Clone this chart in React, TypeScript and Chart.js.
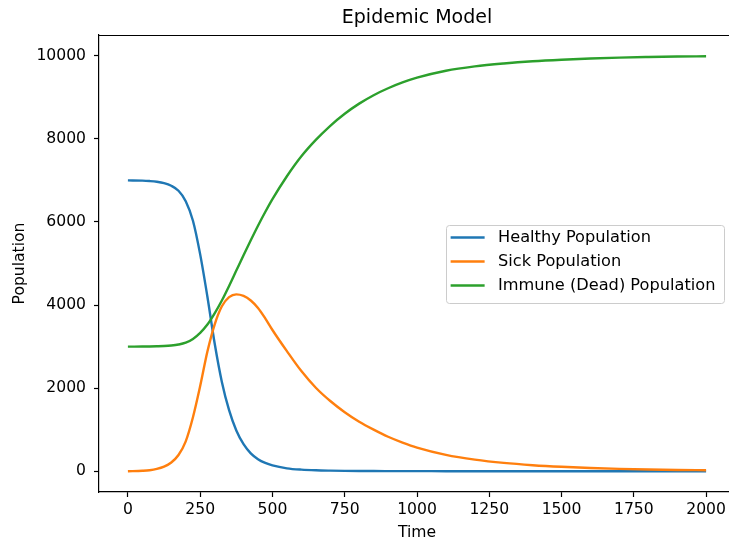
import React, { useEffect, useRef } from 'react';
import { Chart, registerables } from 'chart.js';

Chart.register(...registerables);

const TITLE = 'Epidemic Model';
const X_LABEL = 'Time';
const Y_LABEL = 'Population';
const X_TICKS = [0, 250, 500, 750, 1000, 1250, 1500, 1750, 2000];
const Y_TICKS = [0, 2000, 4000, 6000, 8000, 10000];
const SERIES_NAMES = ['Healthy Population', 'Sick Population', 'Immune (Dead) Population'];

const TIME = [
  0, 50, 75, 100, 125, 150,
  175, 200, 225, 250, 275, 300, 325, 350, 375, 400, 425, 450, 475, 500,
  550, 600, 650, 700, 750, 800, 850, 900, 950, 1000,
  1100, 1200, 1300, 1400, 1500, 1600, 1700, 1800, 1900, 2000,
];

const HEALTHY = [
  7000, 6995, 6985, 6968, 6935, 6870,
  6750, 6500, 6030, 5220, 4200, 3080, 2150, 1470, 980, 650, 430, 290, 200, 140,
  70, 38, 22, 14, 9, 6, 4, 3, 2, 2,
  1, 1, 0, 0, 0, 0, 0, 0, 0, 0,
];

const SICK = [
  0, 12, 25, 55, 110, 210,
  390, 720, 1300, 2050, 2880, 3530, 3970, 4190, 4258, 4220, 4110, 3930, 3680, 3400,
  2890, 2410, 2010, 1690, 1420, 1190, 1000, 830, 690, 570,
  395, 280, 200, 145, 106, 78, 57, 42, 31, 23,
];

const IMMUNE = [
  3000, 3001, 3003, 3007, 3013, 3026,
  3050, 3095, 3185, 3330, 3530, 3800, 4110, 4460, 4830, 5200, 5560, 5910, 6240, 6550,
  7100, 7580, 7975, 8315, 8605, 8848, 9051, 9218, 9358, 9473,
  9640, 9745, 9815, 9868, 9906, 9935, 9956, 9970, 9981, 9989,
];

const COLORS = ['#1f77b4', '#ff7f0e', '#2ca02c'];
const FONT = '"DejaVu Sans", sans-serif';
const TEXT = '#000';

const toPoints = (ys: number[]) => TIME.map((t, i) => ({ x: t, y: ys[i] }));

const framePlugin = {
  id: 'frameAndText',
  afterDraw(chart: any) {
    const { ctx, chartArea: a } = chart;
    ctx.save();
    // top and right spines
    ctx.strokeStyle = '#000';
    ctx.lineWidth = 1.2;
    ctx.beginPath();
    ctx.moveTo(a.left, Math.round(a.top) + 0.5);
    ctx.lineTo(a.right, Math.round(a.top) + 0.5);
    ctx.lineTo(a.right, a.bottom);
    ctx.stroke();

    // title
    ctx.fillStyle = TEXT;
    ctx.font = `19px ${FONT}`;
    ctx.textAlign = 'center';
    ctx.textBaseline = 'middle';
    ctx.fillText(TITLE, (a.left + a.right) / 2, a.top - 17);

    // legend
    ctx.font = `16.2px ${FONT}`;
    const ds = chart.data.datasets;
    let maxW = 0;
    ds.forEach((d: any) => {
      maxW = Math.max(maxW, ctx.measureText(d.label).width);
    });
    const boxW = 5 + 34 + 13.4 + maxW + 8.6;
    const boxH = 78;
    const right = a.right - 11;
    const left = right - boxW;
    const top = (a.top + a.bottom) / 2 - boxH / 2;
    ctx.beginPath();
    if ((ctx as any).roundRect) {
      (ctx as any).roundRect(Math.round(left) + 0.5, Math.round(top) + 0.5, Math.round(boxW), boxH, 3);
    } else {
      ctx.rect(Math.round(left) + 0.5, Math.round(top) + 0.5, Math.round(boxW), boxH);
    }
    ctx.fillStyle = 'rgba(255,255,255,0.8)';
    ctx.fill();
    ctx.strokeStyle = '#cccccc';
    ctx.lineWidth = 1;
    ctx.stroke();

    ds.forEach((d: any, i: number) => {
      const cy = top + 13 + i * 24;
      ctx.strokeStyle = d.borderColor;
      ctx.lineWidth = 2.4;
      ctx.beginPath();
      ctx.moveTo(left + 5, cy);
      ctx.lineTo(left + 39, cy);
      ctx.stroke();
      ctx.fillStyle = TEXT;
      ctx.textAlign = 'left';
      ctx.textBaseline = 'middle';
      ctx.fillText(d.label, left + 52.4, cy);
    });
    ctx.restore();
  },
};

export default function App() {
  const ref = useRef<HTMLCanvasElement>(null);

  useEffect(() => {
    const canvas = ref.current;
    if (!canvas) return;
    const tickFont = { family: FONT, size: 15.6 };
    const chart = new Chart(canvas, {
      type: 'line',
      data: {
        datasets: [HEALTHY, SICK, IMMUNE].map((ys, i) => ({
          label: SERIES_NAMES[i],
          data: toPoints(ys),
          borderColor: COLORS[i],
          backgroundColor: COLORS[i],
          borderWidth: 2.4,
          pointRadius: 0,
          fill: false,
          cubicInterpolationMode: 'monotone' as const,
          order: 3 - i,
        })),
      },
      options: {
        responsive: false,
        animation: false,
        devicePixelRatio: 1,
        layout: { padding: { top: 35, right: 25, left: 0, bottom: 0 } },
        plugins: {
          legend: { display: false },
          title: { display: false },
          tooltip: { enabled: false },
        },
        scales: {
          x: {
            type: 'linear',
            min: -100,
            max: 2100,
            afterBuildTicks: (s: any) => {
              s.ticks = X_TICKS.map((v) => ({ value: v }));
            },
            afterFit: (s: any) => {
              s.height = 52;
            },
            grid: {
              display: true,
              drawOnChartArea: false,
              drawTicks: true,
              tickLength: 5,
              tickColor: '#000',
              tickWidth: 1.2,
            },
            border: { display: true, color: '#000', width: 1.2 },
            ticks: {
              padding: 3.5,
              color: TEXT,
              font: tickFont,
              maxRotation: 0,
              autoSkip: false,
              callback: (v: any) => String(v),
            },
            title: {
              display: true,
              text: X_LABEL,
              color: TEXT,
              font: tickFont,
              padding: { top: 0, bottom: 1.5 },
            },
          },
          y: {
            type: 'linear',
            min: -500,
            max: 10500,
            afterBuildTicks: (s: any) => {
              s.ticks = Y_TICKS.map((v) => ({ value: v }));
            },
            afterFit: (s: any) => {
              s.width = 99;
            },
            grid: {
              display: true,
              drawOnChartArea: false,
              drawTicks: true,
              tickLength: 5,
              tickColor: '#000',
              tickWidth: 1.2,
            },
            border: { display: true, color: '#000', width: 1.2 },
            ticks: {
              padding: 8,
              color: TEXT,
              font: tickFont,
              autoSkip: false,
              callback: (v: any) => String(v),
            },
            title: {
              display: true,
              text: Y_LABEL,
              color: TEXT,
              font: tickFont,
              padding: { top: 10.5, bottom: 0 },
            },
          },
        },
      },
      plugins: [framePlugin],
    } as any);
    return () => chart.destroy();
  }, []);

  return (
    <div
      style={{
        position: 'fixed',
        left: 0,
        top: 0,
        width: 729,
        height: 544,
        overflow: 'hidden',
        background: '#fff',
      }}
    >
      <canvas ref={ref} width={760} height={544} style={{ display: 'block', width: 760, height: 544 }} />
    </div>
  );
}
